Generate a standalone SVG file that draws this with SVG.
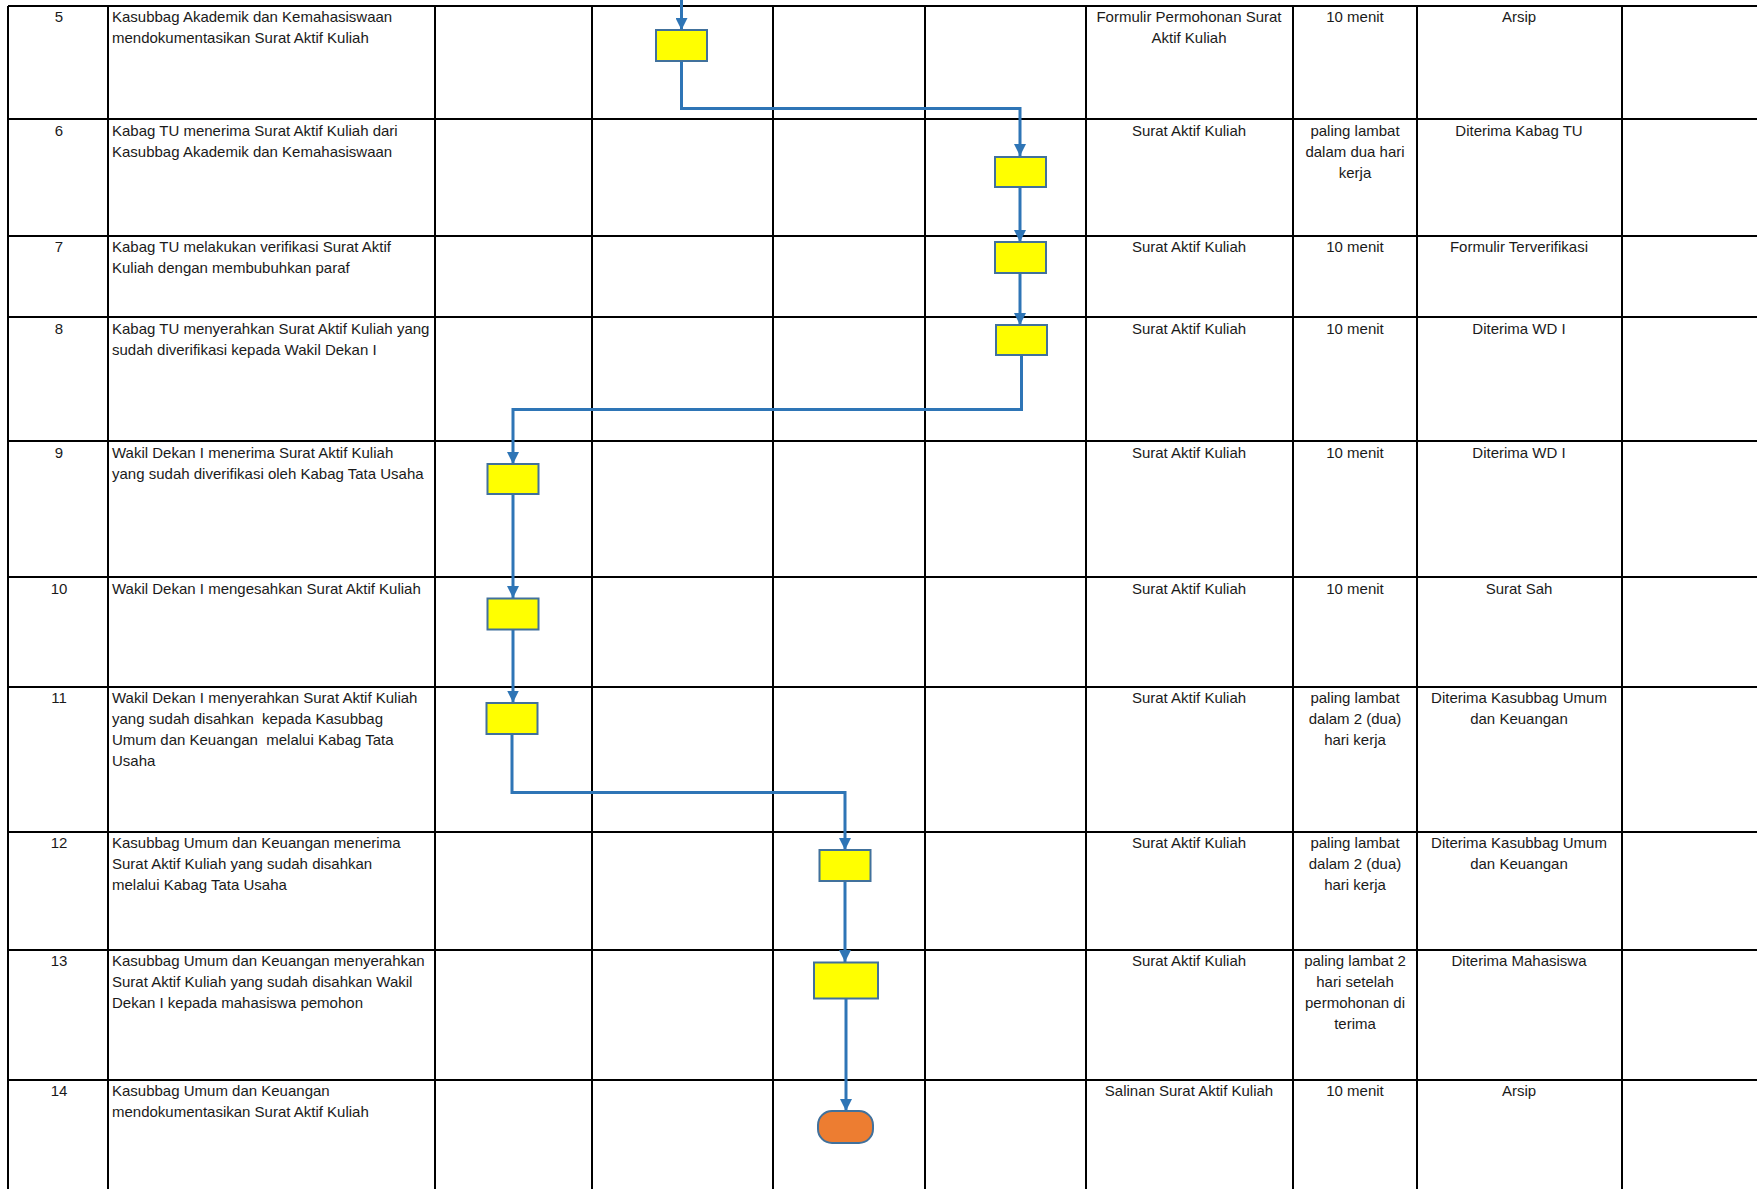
<svg xmlns="http://www.w3.org/2000/svg" width="1757" height="1189" viewBox="0 0 1757 1189">
<defs>
<style>
.g{stroke:#000;stroke-width:2;fill:none}
text{font-family:"Liberation Sans",Arial,sans-serif;font-size:15px;fill:#1a1a1a;white-space:pre}
.c{text-anchor:middle}
.box{fill:#FFFF00;stroke:#41719C;stroke-width:2}
.term{fill:#ED7D31;stroke:#41719C;stroke-width:2}
.con{fill:none;stroke:#2E75B6;stroke-width:3;marker-end:url(#ah)}
</style>
<marker id="ah" markerUnits="userSpaceOnUse" markerWidth="12" markerHeight="12" refX="10" refY="5" orient="auto" viewBox="0 0 10 10">
<path d="M0,0 L10,5 L0,10 z" fill="#2E75B6"/>
</marker>
</defs>
<rect width="1757" height="1189" fill="#fff"/>
<g id="grid" class="g">
<line x1="8" y1="6" x2="1757" y2="6"/>
<line x1="8" y1="119" x2="1757" y2="119"/>
<line x1="8" y1="236" x2="1757" y2="236"/>
<line x1="8" y1="317" x2="1757" y2="317"/>
<line x1="8" y1="441" x2="1757" y2="441"/>
<line x1="8" y1="577" x2="1757" y2="577"/>
<line x1="8" y1="687" x2="1757" y2="687"/>
<line x1="8" y1="832" x2="1757" y2="832"/>
<line x1="8" y1="950" x2="1757" y2="950"/>
<line x1="8" y1="1080" x2="1757" y2="1080"/>
<line x1="8" y1="6" x2="8" y2="1189"/>
<line x1="108" y1="6" x2="108" y2="1189"/>
<line x1="435" y1="6" x2="435" y2="1189"/>
<line x1="592" y1="6" x2="592" y2="1189"/>
<line x1="773" y1="6" x2="773" y2="1189"/>
<line x1="925" y1="6" x2="925" y2="1189"/>
<line x1="1086" y1="6" x2="1086" y2="1189"/>
<line x1="1293" y1="6" x2="1293" y2="1189"/>
<line x1="1417" y1="6" x2="1417" y2="1189"/>
<line x1="1622" y1="6" x2="1622" y2="1189"/>
</g>
<g id="texts">
<g id="row5">
<text class="c" x="59" y="22">5</text>
<text x="112" y="22">Kasubbag Akademik dan Kemahasiswaan</text>
<text x="112" y="43">mendokumentasikan Surat Aktif Kuliah</text>
<text class="c" x="1189" y="22">Formulir Permohonan Surat</text>
<text class="c" x="1189" y="43">Aktif Kuliah</text>
<text class="c" x="1355" y="22">10 menit</text>
<text class="c" x="1519" y="22">Arsip</text>
</g>
<g id="row6">
<text class="c" x="59" y="136">6</text>
<text x="112" y="136">Kabag TU menerima Surat Aktif Kuliah dari</text>
<text x="112" y="157">Kasubbag Akademik dan Kemahasiswaan</text>
<text class="c" x="1189" y="136">Surat Aktif Kuliah</text>
<text class="c" x="1355" y="136">paling lambat</text>
<text class="c" x="1355" y="157">dalam dua hari</text>
<text class="c" x="1355" y="178">kerja</text>
<text class="c" x="1519" y="136">Diterima Kabag TU</text>
</g>
<g id="row7">
<text class="c" x="59" y="252">7</text>
<text x="112" y="252">Kabag TU melakukan verifikasi Surat Aktif</text>
<text x="112" y="273">Kuliah dengan membubuhkan paraf</text>
<text class="c" x="1189" y="252">Surat Aktif Kuliah</text>
<text class="c" x="1355" y="252">10 menit</text>
<text class="c" x="1519" y="252">Formulir Terverifikasi</text>
</g>
<g id="row8">
<text class="c" x="59" y="334">8</text>
<text x="112" y="334">Kabag TU menyerahkan Surat Aktif Kuliah yang</text>
<text x="112" y="355">sudah diverifikasi kepada Wakil Dekan I</text>
<text class="c" x="1189" y="334">Surat Aktif Kuliah</text>
<text class="c" x="1355" y="334">10 menit</text>
<text class="c" x="1519" y="334">Diterima WD I</text>
</g>
<g id="row9">
<text class="c" x="59" y="458">9</text>
<text x="112" y="458">Wakil Dekan I menerima Surat Aktif Kuliah</text>
<text x="112" y="479">yang sudah diverifikasi oleh Kabag Tata Usaha</text>
<text class="c" x="1189" y="458">Surat Aktif Kuliah</text>
<text class="c" x="1355" y="458">10 menit</text>
<text class="c" x="1519" y="458">Diterima WD I</text>
</g>
<g id="row10">
<text class="c" x="59" y="594">10</text>
<text x="112" y="594">Wakil Dekan I mengesahkan Surat Aktif Kuliah</text>
<text class="c" x="1189" y="594">Surat Aktif Kuliah</text>
<text class="c" x="1355" y="594">10 menit</text>
<text class="c" x="1519" y="594">Surat Sah</text>
</g>
<g id="row11">
<text class="c" x="59" y="703">11</text>
<text x="112" y="703">Wakil Dekan I menyerahkan Surat Aktif Kuliah</text>
<text x="112" y="724">yang sudah disahkan  kepada Kasubbag</text>
<text x="112" y="745">Umum dan Keuangan  melalui Kabag Tata</text>
<text x="112" y="766">Usaha</text>
<text class="c" x="1189" y="703">Surat Aktif Kuliah</text>
<text class="c" x="1355" y="703">paling lambat</text>
<text class="c" x="1355" y="724">dalam 2 (dua)</text>
<text class="c" x="1355" y="745">hari kerja</text>
<text class="c" x="1519" y="703">Diterima Kasubbag Umum</text>
<text class="c" x="1519" y="724">dan Keuangan</text>
</g>
<g id="row12">
<text class="c" x="59" y="848">12</text>
<text x="112" y="848">Kasubbag Umum dan Keuangan menerima</text>
<text x="112" y="869">Surat Aktif Kuliah yang sudah disahkan</text>
<text x="112" y="890">melalui Kabag Tata Usaha</text>
<text class="c" x="1189" y="848">Surat Aktif Kuliah</text>
<text class="c" x="1355" y="848">paling lambat</text>
<text class="c" x="1355" y="869">dalam 2 (dua)</text>
<text class="c" x="1355" y="890">hari kerja</text>
<text class="c" x="1519" y="848">Diterima Kasubbag Umum</text>
<text class="c" x="1519" y="869">dan Keuangan</text>
</g>
<g id="row13">
<text class="c" x="59" y="966">13</text>
<text x="112" y="966">Kasubbag Umum dan Keuangan menyerahkan</text>
<text x="112" y="987">Surat Aktif Kuliah yang sudah disahkan Wakil</text>
<text x="112" y="1008">Dekan I kepada mahasiswa pemohon</text>
<text class="c" x="1189" y="966">Surat Aktif Kuliah</text>
<text class="c" x="1355" y="966">paling lambat 2</text>
<text class="c" x="1355" y="987">hari setelah</text>
<text class="c" x="1355" y="1008">permohonan di</text>
<text class="c" x="1355" y="1029">terima</text>
<text class="c" x="1519" y="966">Diterima Mahasiswa</text>
</g>
<g id="row14">
<text class="c" x="59" y="1096">14</text>
<text x="112" y="1096">Kasubbag Umum dan Keuangan</text>
<text x="112" y="1117">mendokumentasikan Surat Aktif Kuliah</text>
<text class="c" x="1189" y="1096">Salinan Surat Aktif Kuliah</text>
<text class="c" x="1355" y="1096">10 menit</text>
<text class="c" x="1519" y="1096">Arsip</text>
</g>
</g>
<g id="connectors">
<path class="con" d="M681.5,0 V30"/>
<path class="con" d="M681.5,61 V108.5 H1020 V156"/>
<path class="con" d="M1020,187 V242"/>
<path class="con" d="M1020,273 V325"/>
<path class="con" d="M1021.5,356 V409.5 H513 V464"/>
<path class="con" d="M513,494 V598"/>
<path class="con" d="M513,630 V702.5"/>
<path class="con" d="M512,734 V792.5 H845 V850"/>
<path class="con" d="M845,881 V962"/>
<path class="con" d="M846,999 V1111"/>
</g>
<g id="node5"><rect class="box" x="656" y="30" width="51" height="31"/></g>
<g id="node6"><rect class="box" x="995" y="157" width="51" height="30"/></g>
<g id="node7"><rect class="box" x="995" y="242" width="51" height="31"/></g>
<g id="node8"><rect class="box" x="996" y="325" width="51" height="30"/></g>
<g id="node9"><rect class="box" x="487.5" y="464" width="51" height="30"/></g>
<g id="node10"><rect class="box" x="487.5" y="598.5" width="51" height="31"/></g>
<g id="node11"><rect class="box" x="486.5" y="703" width="51" height="31"/></g>
<g id="node12"><rect class="box" x="819.5" y="850" width="51" height="31"/></g>
<g id="node13"><rect class="box" x="814" y="962.5" width="64" height="36"/></g>
<g id="node14"><rect class="term" x="818" y="1111" width="55" height="32" rx="14" ry="14"/></g>
</svg>
